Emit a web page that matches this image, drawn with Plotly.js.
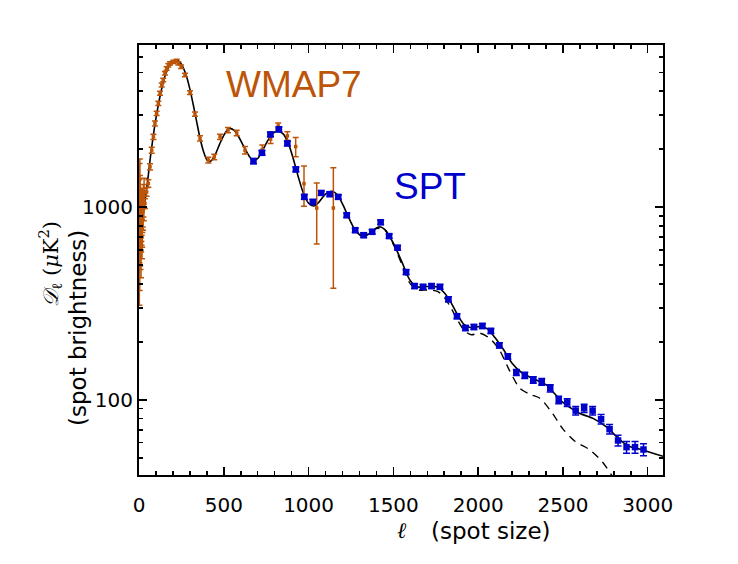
<!DOCTYPE html>
<html><head><meta charset="utf-8">
<script src="https://cdn.plot.ly/plotly-3.0.1.min.js"></script>
<style>html,body{margin:0;padding:0;background:#fff}#chart{width:738px;height:564px}</style>
</head><body><div id="chart"></div>
<script>
// Theory curve (solid): model including secondaries
const theoryEll = [2,5,10,15,20,30,40,50,60,70,80,90,100,110,125,150,175,200,220,240,260,280,300,320,340,360,380,400,410,425,450,475,500,530,560,590,620,650,675,700,730,760,790,820,850,880,910,940,970,1000,1030,1060,1100,1135,1170,1200,1240,1280,1320,1360,1400,1425,1450,1500,1550,1600,1640,1700,1760,1800,1840,1880,1920,1960,2000,2050,2100,2150,2200,2250,2300,2350,2400,2450,2500,2560,2600,2680,2760,2820,2880,2970,3090];
const theoryD = [950,880,830,840,880,1000,1150,1350,1600,1900,2200,2550,2900,3250,3800,4700,5350,5720,5800,5680,5320,4780,4100,3400,2780,2280,1950,1760,1725,1740,1880,2120,2360,2560,2510,2300,2050,1840,1740,1790,1980,2220,2420,2480,2400,2150,1780,1430,1180,1050,1015,1060,1170,1210,1160,1040,870,750,705,730,780,790,765,650,520,415,386,388,385,360,320,275,245,237,240,235,210,182,155,140,132,126,120,108,97,89,85,80,72,64,58,55,51];
// Dashed curve: primary CMB only
const dashEll = [1300,1360,1400,1450,1500,1550,1600,1650,1700,1760,1800,1840,1880,1920,1960,2010,2070,2125,2180,2246,2305,2364,2439,2498,2571,2659,2734,2787,2830];
const dashD = [725,728,775,760,640,505,400,372,372,366,340,300,258,228,218,222,208,182,145,115,107,102,85,71,61,55,47.5,40.7,35];
// WMAP7 band powers
const wmapEll = [2,3,4,5,6,7,8,9,10,11,12,13,14,15,16,17,18,19,20,22,24,26,28,30,
  35,45,55,65,75,85,94,104,114,124,134,143,153,163,173,183,202,222,232,248,271,301,330,360,409,444,478,525,576,625,727,776,821,875,924,973,1048,1146];
const wmapD = [850,1100,700,1250,1050,780,900,700,950,850,600,800,900,850,950,1000,700,800,950,1000,950,1100,1050,1200,
  1045,1200,1328,1619,1977,2318,2722,3068,3459,3900,4304,4571,4955,5250,5450,5570,5685,5750,5570,5355,4850,3930,3040,2275,1754,1824,2318,2512,2430,1977,1990,2254,2640,2345,2063,1325,990,990];
const wmapErr = [540,585,330,530,410,285,310,225,290,250,170,215,235,215,235,240,160,180,210,210,190,210,200,215,
  60,60,60,60,70,70,80,80,90,90,100,100,110,110,110,110,110,110,110,110,100,90,80,70,60,60,70,80,80,90,110,112,95,117,238,313,345,610];
// SPT band powers
const sptEll = [675,725,775,825,875,925,975,1025,1075,1125,1175,1225,1275,1325,1375,1425,1475,1525,1575,1625,1675,1725,1775,1825,1875,1925,1975,2025,2075,2125,2175,2225,2275,2325,2375,2425,2475,2525,2575,2625,2675,2725,2775,2825,2875,2925,2975];
const sptD = [1734,1914,2387,2534,2142,1570,1131,1065,1186,1169,1131,909,760,716,745,835,708,616,461,390,386,390,386,333,272,236,239,242,228,192,168,139,134,127,124,115,100,97,88,90.5,88,79.4,70.5,61.6,56.9,56.9,55.3];
const sptErr = [55,55,65,70,60,45,33,30,32,32,30,25,21,20,20,22,19,17,13,11,11,11,11,10,8,7,7,7,7,6,5.5,5,5,5,5,5,4.5,4.5,4.5,4.5,4.5,4.5,4,4,4,4,4];
// Ticks
const xTickVals = [0,500,1000,1500,2000,2500,3000];
const yTickVals = [100,1000];
const yTickText = ['100','1000'];
const yMinorVals = [50,60,70,80,90,200,300,400,500,600,700,800,900,2000,3000,4000,5000,6000];

const ORANGE = '#bd5508';
const BLUE = '#0000cc';

const traces = [
  {x: theoryEll, y: theoryD, type:'scatter', mode:'lines', line:{color:'black', width:1.6, shape:'spline', smoothing:0.9}, hoverinfo:'skip'},
  {x: dashEll, y: dashD, type:'scatter', mode:'lines', line:{color:'black', width:1.4, dash:'8px,6px', shape:'spline', smoothing:0.8}, hoverinfo:'skip'},
  {x: wmapEll, y: wmapD, type:'scatter', mode:'markers', marker:{symbol:'square', size:3.5, color:ORANGE},
   error_y:{type:'data', array:wmapErr, visible:true, color:ORANGE, thickness:1.5, width:3}},
  {x: sptEll, y: sptD, type:'scatter', mode:'markers', marker:{symbol:'square', size:6.5, color:BLUE},
   error_y:{type:'data', array:sptErr, visible:true, color:BLUE, thickness:1.5, width:3.5}}
];

const tickFont = {family:'DejaVu Sans', size:20, color:'black'};
const layout = {
  width:738, height:564,
  margin:{l:139, r:75, t:45, b:89, pad:0},
  paper_bgcolor:'white', plot_bgcolor:'white',
  showlegend:false,
  xaxis:{range:[0,3090], tickmode:'array', tickvals:xTickVals, ticks:'inside', ticklen:8, tickwidth:1.5, tickcolor:'black',
    ticklabelstandoff:11,
    showline:true, linecolor:'black', linewidth:2, mirror:'ticks', showgrid:false, zeroline:false, tickfont:tickFont,
    minor:{tickmode:'linear', tick0:0, dtick:100, ticks:'inside', ticklen:4, tickwidth:1.5, tickcolor:'black', showgrid:false}},
  yaxis:{type:'log', range:[1.6104,3.8416], tickmode:'array', tickvals:yTickVals, ticktext:yTickText, ticks:'inside', ticklen:8, tickwidth:1.5, tickcolor:'black',
    showline:true, linecolor:'black', linewidth:2, mirror:'ticks', showgrid:false, zeroline:false, tickfont:tickFont,
    minor:{tickmode:'array', tickvals:yMinorVals, ticks:'inside', ticklen:4, tickwidth:1.5, tickcolor:'black', showgrid:false}},
  annotations:[
    {text:'WMAP7', xref:'paper', yref:'paper', x:0.2958, y:0.909, xanchor:'center', yanchor:'middle', showarrow:false,
     font:{family:'Liberation Sans', size:37, color:ORANGE}},
    {text:'SPT', xref:'paper', yref:'paper', x:0.5553, y:0.671, xanchor:'center', yanchor:'middle', showarrow:false,
     font:{family:'Liberation Sans', size:37, color:BLUE}},
    {text:'<i>ℓ</i>', xref:'paper', yref:'paper', x:0.502, y:-0.13, xanchor:'center', yanchor:'middle', showarrow:false,
     font:{family:'DejaVu Serif', size:22, color:'black'}},
    {text:'(spot size)', xref:'paper', yref:'paper', x:0.672, y:-0.13, xanchor:'center', yanchor:'middle', showarrow:false,
     font:{family:'DejaVu Sans', size:23, color:'black'}},
    {text:'<i>𝒟</i><sub>ℓ</sub> (<i>μ</i>K<sup>2</sup>)', xref:'paper', yref:'paper', x:-0.170, y:0.491, xanchor:'center', yanchor:'middle', textangle:-90, showarrow:false,
     font:{family:'DejaVu Serif', size:21, color:'black'}},
    {text:'(spot brightness)', xref:'paper', yref:'paper', x:-0.1164, y:0.342, xanchor:'center', yanchor:'middle', textangle:-90, showarrow:false,
     font:{family:'DejaVu Sans', size:23, color:'black'}}
  ]
};

Plotly.newPlot('chart', traces, layout, {displayModeBar:false, staticPlot:true});
</script>
</body></html>
